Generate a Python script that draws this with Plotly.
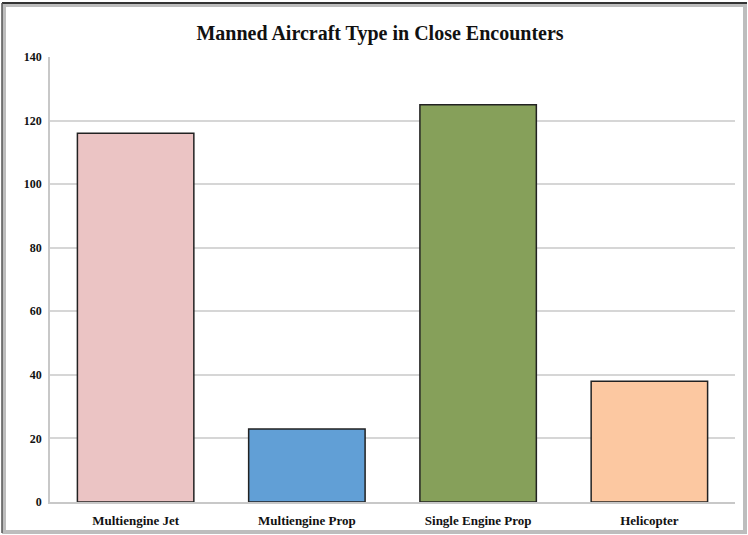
import plotly.graph_objects as go

categories = ["Multiengine Jet", "Multiengine Prop", "Single Engine Prop", "Helicopter"]
values = [116, 23, 125, 38]
colors = ["#EBC4C4", "#619FD6", "#86A05A", "#FCC8A1"]
y_ticks = [0, 20, 40, 60, 80, 100, 120, 140]

L, R, T, B = 50, 13, 57, 33
W, H = 748, 535
pw, ph = W - L - R, H - T - B

def px_x(x):
    return (x - L) / pw

def px_y(y):
    return (H - B - y) / ph

fig = go.Figure(go.Bar(
    x=categories, y=values,
    marker=dict(color=colors, line=dict(color="#222222", width=1.5)),
    width=0.68,
))

font_serif = "Liberation Serif, DejaVu Serif, serif"

fig.update_layout(
    width=W, height=H,
    margin=dict(l=L, r=R, t=T, b=B, autoexpand=False),
    paper_bgcolor="white", plot_bgcolor="white",
    showlegend=False,
    title=dict(text="<b>Manned Aircraft Type in Close Encounters</b>",
               x=px_x(380), xref="paper", xanchor="center",
               y=1 - 33 / H, yanchor="middle",
               font=dict(family=font_serif, size=20, color="#111111")),
    font=dict(family=font_serif, color="#111111"),
    xaxis=dict(
        showgrid=False, showline=True, linecolor="#c8c8c8", linewidth=1.5,
        ticks="", tickfont=dict(size=13, family=font_serif, weight="bold", color="#111111"),
        automargin=False, ticklabelstandoff=6,
    ),
    yaxis=dict(
        range=[0, 140], tickvals=y_ticks, showgrid=True, gridcolor="#d6d6d6", gridwidth=1.5,
        showline=True, linecolor="#c8c8c8", linewidth=1.5, ticks="",
        tickfont=dict(size=12, family=font_serif, weight="bold", color="#111111"),
        zeroline=False, automargin=False, ticklabelstandoff=4,
    ),
    shapes=[
        dict(type="rect", xref="paper", yref="paper",
             x0=px_x(4), x1=px_x(745), y0=px_y(532), y1=px_y(5),
             line=dict(color="#bdbdbd", width=4), fillcolor="rgba(0,0,0,0)", layer="below"),
        dict(type="line", xref="paper", yref="paper",
             x0=px_x(2), x1=px_x(747), y0=px_y(3), y1=px_y(3),
             line=dict(color="#333333", width=2)),
        dict(type="line", xref="paper", yref="paper",
             x0=px_x(2), x1=px_x(2), y0=px_y(3), y1=px_y(533),
             line=dict(color="#555555", width=1.5)),
    ],
)

fig.write_html("out.html", config={"displayModeBar": False},
               post_script="document.body.style.margin='0';document.body.style.overflow='hidden';")
